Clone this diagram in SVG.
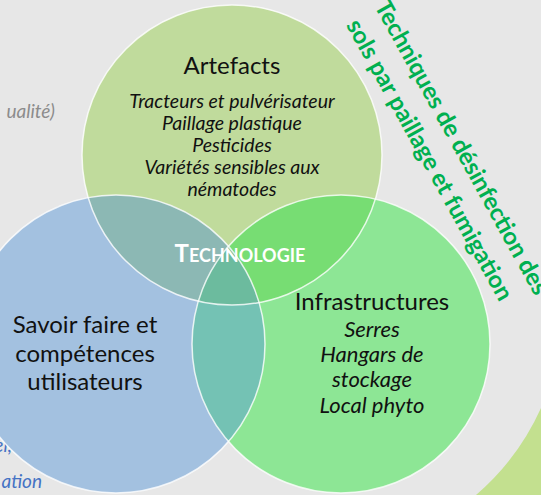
<svg xmlns="http://www.w3.org/2000/svg" width="541" height="495" viewBox="0 0 541 495">
<style>
.lbl{font-family:Lato,"Liberation Sans",sans-serif;font-size:24px;fill:#111;text-anchor:middle}
.it{font-family:Lato,"Liberation Sans",sans-serif;font-style:italic;font-size:19.5px;fill:#111;text-anchor:middle}
.it2{font-family:Lato,"Liberation Sans",sans-serif;font-style:italic;font-size:22px;fill:#111;text-anchor:middle}
.rot{font-family:Lato,"Liberation Sans",sans-serif;font-weight:bold;font-size:24px;fill:#00B050}
.side{font-family:Lato,"Liberation Sans",sans-serif;font-style:italic;font-size:19px;text-anchor:end}
.edge{fill:none;stroke:#fff;stroke-width:1.5;stroke-opacity:0.8}
</style>
<defs>
<clipPath id="cT"><circle cx="232" cy="155" r="150"/></clipPath>
<clipPath id="cL"><circle cx="116" cy="344" r="149"/></clipPath>
</defs>
<rect width="541" height="495" fill="#E7E7E7"/>
<path d="M541,408 A250,250 0 0 1 476,495 L541,495 Z" fill="#C3E08F"/>
<text class="side" x="55" y="118" fill="#8C8C8C">ualité)</text>
<text class="side" x="12" y="452" fill="#4472C4">el,</text>
<text class="side" x="42" y="488" fill="#4472C4">ation</text>
<g id="circles">
<circle cx="232" cy="155" r="150" fill="#C0DB9C"/>
<circle cx="116" cy="344" r="149" fill="#A3C1E0"/>
<circle cx="341" cy="344" r="149" fill="#8DE695"/>
<circle cx="116" cy="344" r="149" fill="#8CB8B4" clip-path="url(#cT)"/>
<circle cx="341" cy="344" r="149" fill="#77DD73" clip-path="url(#cT)"/>
<circle cx="341" cy="344" r="149" fill="#74C2B4" clip-path="url(#cL)"/>
<g clip-path="url(#cT)"><circle cx="341" cy="344" r="149" fill="#6CBB9E" clip-path="url(#cL)"/></g>
<circle class="edge" cx="232" cy="155" r="150"/>
<circle class="edge" cx="116" cy="344" r="149"/>
<circle class="edge" cx="341" cy="344" r="149"/>
</g>
<g id="artefacts">
<text class="lbl" x="232" y="74">Artefacts</text>
<text class="it" x="232" y="108">Tracteurs et pulvérisateur</text>
<text class="it" x="232" y="130">Paillage plastique</text>
<text class="it" x="232" y="152">Pesticides</text>
<text class="it" x="232" y="174">Variétés sensibles aux</text>
<text class="it" x="232" y="196">nématodes</text>
</g>
<g id="savoir">
<text class="lbl" x="85" y="333">Savoir faire et</text>
<text class="lbl" x="85" y="362">compétences</text>
<text class="lbl" x="85" y="390">utilisateurs</text>
</g>
<g id="infrastructures">
<text class="lbl" x="372" y="310">Infrastructures</text>
<text class="it2" x="372" y="337">Serres</text>
<text class="it2" x="372" y="362">Hangars de</text>
<text class="it2" x="372" y="387">stockage</text>
<text class="it2" x="372" y="413">Local phyto</text>
</g>
<g id="technologie">
<text x="240" y="262" style="font-family:Lato,'Liberation Sans',sans-serif;font-weight:bold;fill:#fff;text-anchor:middle"><tspan font-size="24">T</tspan><tspan font-size="18">ECHNOLOGIE</tspan></text>
</g>
<g id="title" transform="translate(374,6) rotate(61)">
<text class="rot" x="0" y="0">Techniques de désinfection des</text>
<text class="rot" x="3" y="34">sols par paillage et fumigation</text>
</g>
</svg>
